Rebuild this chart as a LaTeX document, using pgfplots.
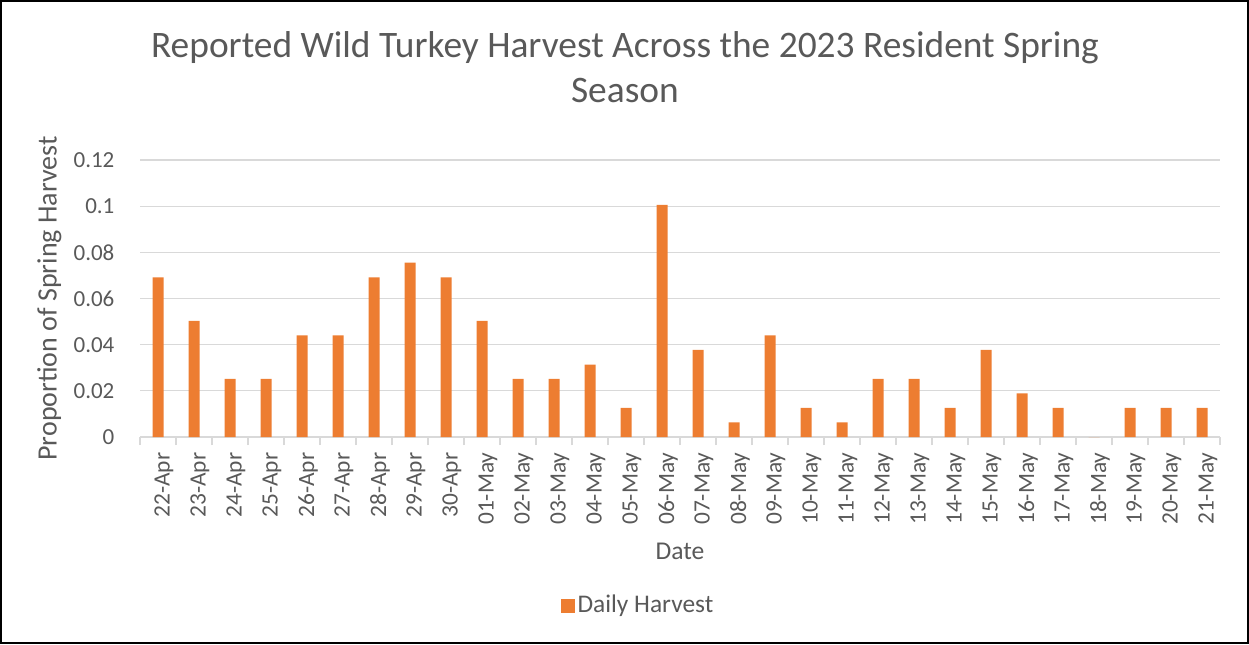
\documentclass[border=0pt]{standalone}
\usepackage{pgfplots}
\pgfplotsset{compat=1.18}
\usepackage{fontspec}
\setmainfont{Carlito}
\definecolor{xlorange}{HTML}{ED7D31}
\definecolor{xltext}{HTML}{595959}
\definecolor{xlgrid}{HTML}{D9D9D9}
\begin{document}
\begin{tikzpicture}
% 1 px of the reference = 0.5pt
\path[use as bounding box] (0,0) rectangle (624.5pt,322pt);
\begin{axis}[
    at={(70pt,103.5pt)}, anchor=south west,
    scale only axis,
    width=540pt, height=138.5pt,
    ybar, bar width=5.5pt, bar shift=0pt,
    xmin=-0.5, xmax=29.5,
    ymin=0, ymax=0.12,
    ytick={0,0.02,...,0.12},
    yticklabels={0,0.02,0.04,0.06,0.08,0.1,0.12},
    xtick={0,...,29},
    xticklabels={22-Apr,23-Apr,24-Apr,25-Apr,26-Apr,27-Apr,28-Apr,29-Apr,30-Apr,01-May,02-May,03-May,04-May,05-May,06-May,07-May,08-May,09-May,10-May,11-May,12-May,13-May,14-May,15-May,16-May,17-May,18-May,19-May,20-May,21-May},
    minor xtick={-0.5,0.5,...,29.5},
    major x tick style={draw=none},
    minor tick length=4pt,
    tick align=outside,
    ymajorgrids,
    grid style={xlgrid, line width=0.6pt},
    axis x line*=bottom, axis y line*=left,
    x axis line style={xlgrid, line width=0.6pt, -},
    y axis line style={draw=none},
    minor x tick style={xlgrid, line width=0.6pt},
    major y tick style={draw=none},
    xticklabel style={rotate=90, anchor=east, font=\fontsize{11.7}{13}\selectfont, text=xltext, yshift=-3pt},
    yticklabel style={font=\fontsize{11.5}{13}\selectfont, text=xltext, xshift=-5pt},
    clip=false,
]
\addplot[fill=xlorange, draw=none] coordinates {
(0,0.0692) (1,0.0503) (2,0.0252) (3,0.0252) (4,0.0440) (5,0.0440)
(6,0.0692) (7,0.0755) (8,0.0692) (9,0.0503) (10,0.0252) (11,0.0252)
(12,0.0314) (13,0.0126) (14,0.1006) (15,0.0377) (16,0.0063) (17,0.0440)
(18,0.0126) (19,0.0063) (20,0.0252) (21,0.0252) (22,0.0126) (23,0.0377)
(24,0.0189) (25,0.0126) (26,0) (27,0.0126) (28,0.0126) (29,0.0126)
};
\node[align=center, text=xltext, font=\fontsize{18.7}{22.5}\selectfont]
  at (axis description cs:0.449,1.334) {Reported Wild Turkey Harvest Across the 2023 Resident Spring\\Season};
\node[rotate=90, text=xltext, font=\fontsize{14}{16}\selectfont]
  at (axis description cs:-0.084,0.5) {Proportion of Spring Harvest};
\node[text=xltext, font=\fontsize{12.8}{14}\selectfont]
  at (axis description cs:0.5,-0.412) {Date};
\node[text=xltext, font=\fontsize{12.7}{14}\selectfont, anchor=west, inner sep=0pt]
  at (axis description cs:0.389,-0.61) {\textcolor{xlorange}{\rule{7pt}{7pt}}\hspace{1.5pt}Daily Harvest};
\end{axis}
\draw[black, line width=1pt] (0.5pt,0.5pt) rectangle (624pt,321.5pt);
\end{tikzpicture}
\end{document}
